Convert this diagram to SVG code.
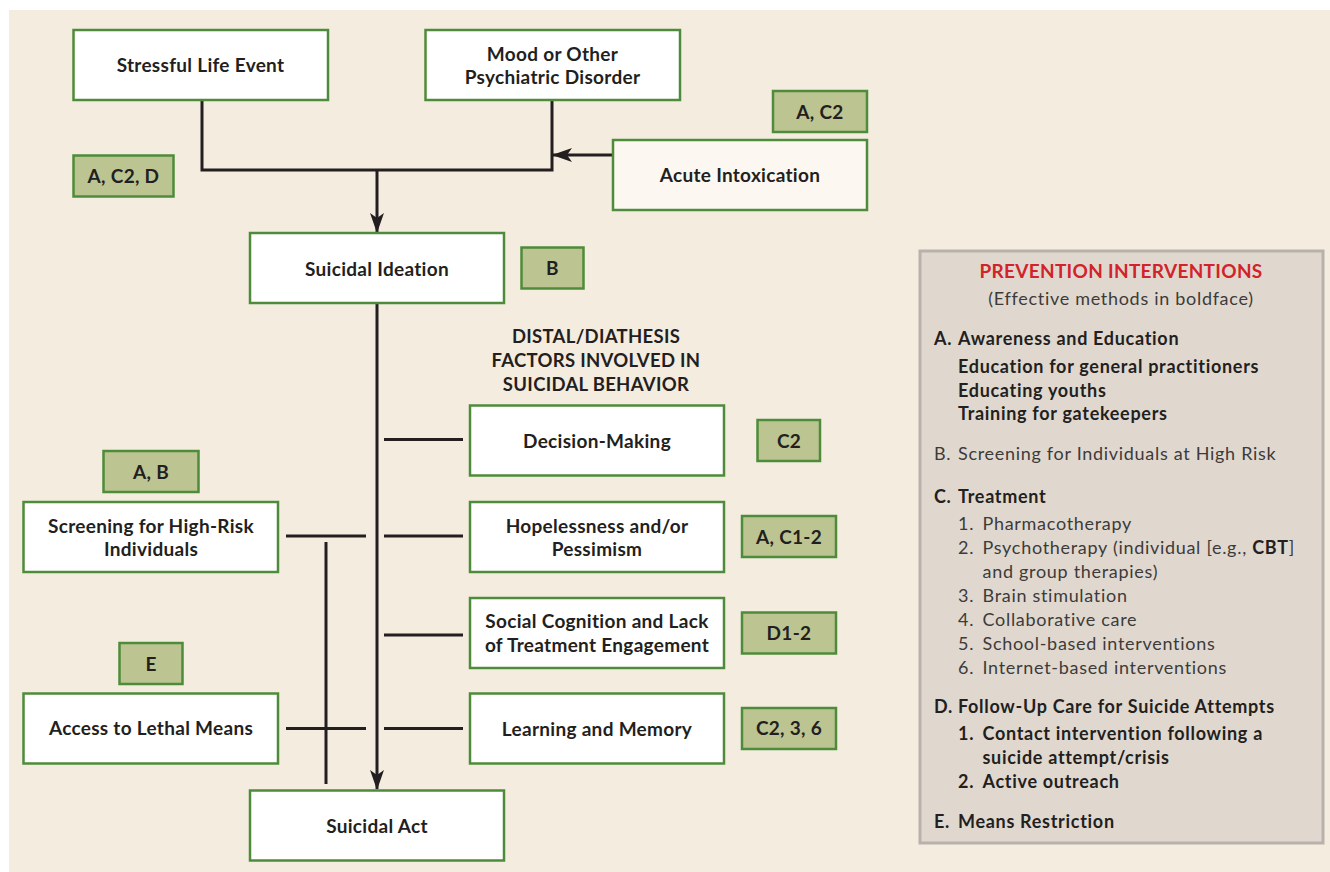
<svg xmlns="http://www.w3.org/2000/svg" width="1330" height="872" viewBox="0 0 1330 872">
<defs>
<marker id="ah" viewBox="0 0 20 14" refX="19" refY="7" markerWidth="20" markerHeight="14" markerUnits="userSpaceOnUse" orient="auto">
<path d="M0,0 L20,7 L0,14 L5,7 Z" fill="#231f20"/>
</marker>
<style>
.box{fill:#ffffff;stroke:#4e8b3a;stroke-width:2.5}
.box2{fill:#fcf8f1;stroke:#4e8b3a;stroke-width:2.5}
.badge{fill:#bcc591;stroke:#4e8b3a;stroke-width:2.5}
.t{font-family:Lato,"Liberation Sans",sans-serif;font-size:19px;font-weight:700;fill:#231f20;text-anchor:middle;letter-spacing:0.3px}
.ln{fill:none;stroke:#231f20;stroke-width:3}
.hd{font-family:Lato,"Liberation Sans",sans-serif;font-size:18.5px;font-weight:700;fill:#231f20;text-anchor:middle;letter-spacing:0.3px}
.pb{font-family:Lato,"Liberation Sans",sans-serif;font-size:18px;font-weight:700;fill:#231f20;letter-spacing:0.7px}
.pr{font-family:Lato,"Liberation Sans",sans-serif;font-size:18px;font-weight:400;fill:#3d3b3a;letter-spacing:0.7px}
</style>
</defs>
<rect x="9" y="10" width="1321" height="862" fill="#f5ece0"/>

<g id="connectors">
<polyline class="ln" points="202,100 202,170 552,170 552,100"/>
<line class="ln" x1="377" y1="170" x2="377" y2="232" marker-end="url(#ah)"/>
<line class="ln" x1="612" y1="155" x2="553" y2="155" marker-end="url(#ah)"/>
<line class="ln" x1="377" y1="303" x2="377" y2="789" marker-end="url(#ah)"/>
<line class="ln" x1="384" y1="439.5" x2="463" y2="439.5"/>
<line class="ln" x1="384" y1="536" x2="463" y2="536"/>
<line class="ln" x1="384" y1="635" x2="463" y2="635"/>
<line class="ln" x1="384" y1="728.5" x2="463" y2="728.5"/>
<line class="ln" x1="286" y1="536" x2="366" y2="536"/>
<line class="ln" x1="286" y1="728.5" x2="366" y2="728.5"/>
<line class="ln" x1="326" y1="542" x2="326" y2="784"/>
</g>

<g id="stressful"><rect class="box" x="73.5" y="30" width="254.5" height="70"/><text class="t" x="200.5" y="72">Stressful Life Event</text></g>
<g id="mood"><rect class="box" x="425.5" y="30" width="254.5" height="70"/><text class="t" x="552.5" y="60.5">Mood or Other</text><text class="t" x="552.5" y="84">Psychiatric Disorder</text></g>
<g id="badge-ac2"><rect class="badge" x="773" y="91" width="94" height="41"/><text class="t" x="820" y="119">A, C2</text></g>
<g id="acute"><rect class="box2" x="613" y="140" width="254" height="70"/><text class="t" x="740" y="182">Acute Intoxication</text></g>
<g id="badge-ac2d"><rect class="badge" x="73.5" y="155.5" width="100" height="41"/><text class="t" x="123.5" y="183">A, C2, D</text></g>
<g id="ideation"><rect class="box" x="250" y="233" width="254" height="70"/><text class="t" x="377" y="276">Suicidal Ideation</text></g>
<g id="badge-b"><rect class="badge" x="521.5" y="247.5" width="62" height="41"/><text class="t" x="552.5" y="275">B</text></g>

<g id="distal-heading"><text class="hd" x="596" y="343">DISTAL/DIATHESIS</text><text class="hd" x="596" y="367">FACTORS INVOLVED IN</text><text class="hd" x="596" y="391">SUICIDAL BEHAVIOR</text></g>

<g id="decision"><rect class="box" x="470" y="405.5" width="254" height="70"/><text class="t" x="597" y="448">Decision-Making</text></g>
<g id="badge-c2"><rect class="badge" x="757.5" y="420" width="62.5" height="41"/><text class="t" x="789" y="447.5">C2</text></g>
<g id="hopeless"><rect class="box" x="470" y="502" width="254" height="70"/><text class="t" x="597" y="532.5">Hopelessness and/or</text><text class="t" x="597" y="556">Pessimism</text></g>
<g id="badge-ac12"><rect class="badge" x="742" y="516" width="94" height="41"/><text class="t" x="789" y="544">A, C1-2</text></g>
<g id="social"><rect class="box" x="470" y="598" width="254" height="70"/><text class="t" x="597" y="628">Social Cognition and Lack</text><text class="t" x="597" y="652">of Treatment Engagement</text></g>
<g id="badge-d12"><rect class="badge" x="742" y="612.5" width="94" height="41"/><text class="t" x="789" y="640">D1-2</text></g>
<g id="learning"><rect class="box" x="470" y="693.5" width="254" height="70"/><text class="t" x="597" y="735.5">Learning and Memory</text></g>
<g id="badge-c236"><rect class="badge" x="742" y="708" width="94" height="41"/><text class="t" x="789" y="735">C2, 3, 6</text></g>

<g id="badge-ab"><rect class="badge" x="103.5" y="451" width="95" height="41"/><text class="t" x="151" y="479">A, B</text></g>
<g id="screening"><rect class="box" x="23.5" y="502" width="254.5" height="70"/><text class="t" x="151" y="532.5">Screening for High-Risk</text><text class="t" x="151" y="556">Individuals</text></g>
<g id="badge-e"><rect class="badge" x="119.5" y="643" width="63" height="41"/><text class="t" x="151" y="671">E</text></g>
<g id="access"><rect class="box" x="23.5" y="693.5" width="254.5" height="70"/><text class="t" x="151" y="735">Access to Lethal Means</text></g>
<g id="act"><rect class="box" x="250" y="790.5" width="254" height="70"/><text class="t" x="377" y="833">Suicidal Act</text></g>

<g id="panel">
<rect x="920" y="251" width="403" height="592" fill="#e0d8cf" stroke="#b8b1ac" stroke-width="3"/>
<text x="1121" y="278" text-anchor="middle" font-family="Lato,'Liberation Sans',sans-serif" font-size="19" font-weight="700" fill="#d2232a" letter-spacing="0.3">PREVENTION INTERVENTIONS</text>
<text x="1121" y="305" text-anchor="middle" class="pr">(Effective methods in boldface)</text>
<text class="pb" x="934" y="345">A.</text><text class="pb" x="958" y="345">Awareness and Education</text>
<text class="pb" x="958" y="372.5">Education for general practitioners</text>
<text class="pb" x="958" y="396.5">Educating youths</text>
<text class="pb" x="958" y="420">Training for gatekeepers</text>
<text class="pr" x="934" y="460">B.</text><text class="pr" x="958" y="460">Screening for Individuals at High Risk</text>
<text class="pb" x="934" y="503">C.</text><text class="pb" x="958" y="503">Treatment</text>
<text class="pr" x="958" y="530">1.</text><text class="pr" x="982.5" y="530">Pharmacotherapy</text>
<text class="pr" x="958" y="553.5">2.</text><text class="pr" x="982.5" y="553.5">Psychotherapy (individual [e.g., <tspan font-weight="700" fill="#231f20">CBT</tspan>]</text>
<text class="pr" x="982.5" y="577.5">and group therapies)</text>
<text class="pr" x="958" y="601.5">3.</text><text class="pr" x="982.5" y="601.5">Brain stimulation</text>
<text class="pr" x="958" y="625.5">4.</text><text class="pr" x="982.5" y="625.5">Collaborative care</text>
<text class="pr" x="958" y="649.5">5.</text><text class="pr" x="982.5" y="649.5">School-based interventions</text>
<text class="pr" x="958" y="673.5">6.</text><text class="pr" x="982.5" y="673.5">Internet-based interventions</text>
<text class="pb" x="934" y="713">D.</text><text class="pb" x="958" y="713">Follow-Up Care for Suicide Attempts</text>
<text class="pb" x="958" y="740">1.</text><text class="pb" x="982.5" y="740">Contact intervention following a</text>
<text class="pb" x="982.5" y="764">suicide attempt/crisis</text>
<text class="pb" x="958" y="788">2.</text><text class="pb" x="982.5" y="788">Active outreach</text>
<text class="pb" x="934" y="828">E.</text><text class="pb" x="958" y="828">Means Restriction</text>
</g>
</svg>
